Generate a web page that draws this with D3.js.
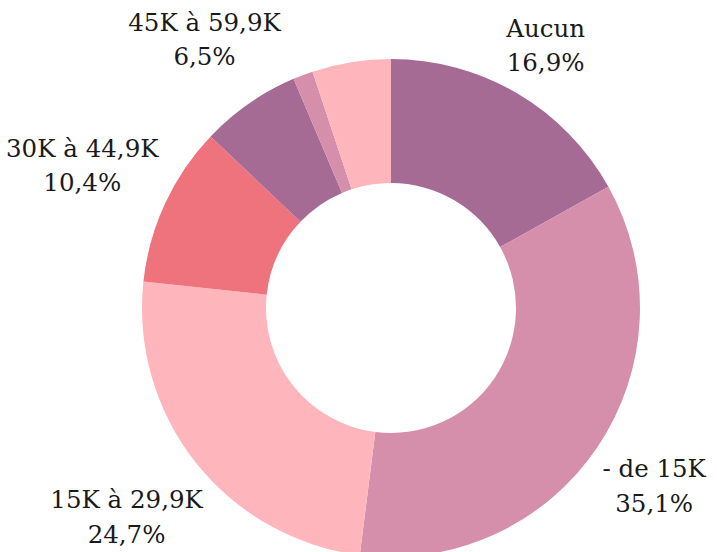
<!DOCTYPE html>
<html>
<head>
<meta charset="utf-8">
<script src="https://cdn.jsdelivr.net/npm/d3@7"></script>
<style>
  body { margin: 0; background: #fff; }
  svg { display: block; }
</style>
</head>
<body>
<script>
// revenus - donut
const categories = ["Aucun", "- de 15K", "15K à 29,9K", "30K à 44,9K", "45K à 59,9K", "60K à 74,9K", "75K et +"];
const values = [16.9, 35.1, 24.7, 10.4, 6.5, 1.3, 5.1];
const showLabel = [true, true, true, true, true, false, false];
const palette = ["#a56b95", "#d68fab", "#feb5bb", "#ee737d"];

const width = 717, height = 552;
const cx = 391, cy = 308;
const outerR = 249, innerR = 125;

const svg = d3.select("body").append("svg")
    .attr("width", width)
    .attr("height", height);

const g = svg.append("g").attr("transform", `translate(${cx},${cy})`);

const data = categories.map((c, i) => ({ name: c, value: values[i], show: showLabel[i] }));

const pie = d3.pie().value(d => d.value).sort(null);
const arc = d3.arc().innerRadius(innerR).outerRadius(outerR);

const arcs = pie(data);

g.selectAll("path")
    .data(arcs)
    .enter()
    .append("path")
    .attr("d", arc)
    .style("fill", (d, i) => palette[i % palette.length]);

const fmt = v => d3.format(".1f")(v).replace(".", ",") + "%";

const labels = g.selectAll("text")
    .data(arcs.filter(d => d.data.show))
    .enter()
    .append("text")
    .attr("text-anchor", "middle")
    .style("font-family", "'DejaVu Serif', serif")
    .style("font-size", "24.5px")
    .style("fill", "#1a1a1a");

labels.append("tspan").attr("x", 0).attr("dy", 0).text(d => d.data.name);
labels.append("tspan").attr("x", 0).attr("dy", "1.4em").text(d => fmt(d.data.value));

// push each label out so its box sits just past the ring
labels.each(function(d) {
    const el = d3.select(this);
    const bb = this.getBBox();
    const a = (d.startAngle + d.endAngle) / 2;
    const s = Math.sin(a), c = -Math.cos(a);
    const r = outerR + 8;
    const ext = (bb.width / 2) * Math.abs(s) + (bb.height / 2) * Math.abs(c);
    const px = s * (r + ext), py = c * (r + ext);
    const bcx = bb.x + bb.width / 2, bcy = bb.y + bb.height / 2;
    el.attr("transform", `translate(${px - bcx},${py - bcy})`);
});
</script>
</body>
</html>
